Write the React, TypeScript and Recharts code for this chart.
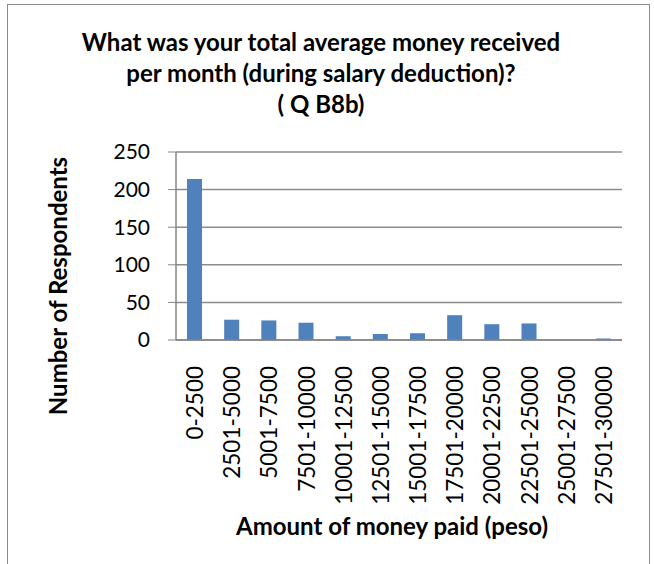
import React from 'react';
import { BarChart, Bar, XAxis, YAxis, CartesianGrid, Label } from 'recharts';

const categories = ['0-2500', '2501-5000', '5001-7500', '7501-10000', '10001-12500', '12501-15000', '15001-17500', '17501-20000', '20001-22500', '22501-25000', '25001-27500', '27501-30000'];
const respondents = [214, 27, 26, 23, 5, 8, 9, 33, 21, 22, 0, 2];
const yTicks = [0, 50, 100, 150, 200, 250];
const titleLines = ['What was your total average money received', 'per month (during salary deduction)?', '( Q B8b)'];
const yLabel = 'Number of Respondents';
const xLabel = 'Amount of money paid (peso)';

const data = categories.map((c, i) => ({ range: c, count: respondents[i] }));

const FONT = 'Lato, "Open Sans", sans-serif';

const XTick = (props: any) => {
  const { x, y, payload } = props;
  return (
    <text x={x} y={y} dx={-18} transform={`rotate(-90, ${x}, ${y})`} textAnchor="end" dominantBaseline="central" fontSize={22.5} fill="#000" fontFamily={FONT}>
      {payload.value}
    </text>
  );
};

export default function App() {
  return (
    <div style={{ position: 'absolute', left: 0, top: 0, width: 654, height: 564, overflow: 'hidden', background: '#fff', fontFamily: FONT }}>
      <div style={{ position: 'absolute', left: 7, top: 4, width: 643, height: 620, border: '1px solid #8c8c8c', boxSizing: 'border-box' }} />
      <div style={{ position: 'absolute', left: 0, top: 26, width: 642, textAlign: 'center', fontWeight: 'bold', fontSize: 24, lineHeight: '31px', color: '#000' }}>
        {titleLines.map((l) => (
          <div key={l}>{l}</div>
        ))}
      </div>
      <BarChart width={654} height={564} data={data} margin={{ top: 152, right: 32, left: 0, bottom: 0 }} style={{ position: 'absolute', left: 0, top: 0 }}>
        <CartesianGrid vertical={false} stroke="#8c8c8c" strokeWidth={1.5} />
        <XAxis dataKey="range" height={224} interval={0} tickLine={false} axisLine={{ stroke: '#868686', strokeWidth: 1.5 }} tick={<XTick />}>
          <Label
            content={(p: any) => {
              const vb = p.viewBox || { x: 176, y: 340, width: 446 };
              return (
                <text x={vb.x + vb.width / 2 - 7} y={525} textAnchor="middle" dominantBaseline="central" fontWeight="bold" fontSize={24} fill="#000" fontFamily={FONT}>
                  {xLabel}
                </text>
              );
            }}
          />
        </XAxis>
        <YAxis width={176} domain={[0, 250]} ticks={yTicks} interval={0} tickSize={8} tickMargin={18} tickLine={{ stroke: '#868686' }} axisLine={{ stroke: '#868686', strokeWidth: 1.5 }} tick={{ fill: '#000', fontSize: 21, fontFamily: FONT }}>
          <Label
            content={(p: any) => {
              const vb = p.viewBox || { y: 152, height: 188 };
              const cy = vb.y + vb.height / 2 + 40;
              return (
                <text x={57} y={cy} transform={`rotate(-90, 57, ${cy})`} textAnchor="middle" dominantBaseline="central" fontWeight="bold" fontSize={24} fill="#000" fontFamily={FONT}>
                  {yLabel}
                </text>
              );
            }}
          />
        </YAxis>
        <Bar dataKey="count" fill="#4f81bd" barSize={15} isAnimationActive={false} />
      </BarChart>
    </div>
  );
}
